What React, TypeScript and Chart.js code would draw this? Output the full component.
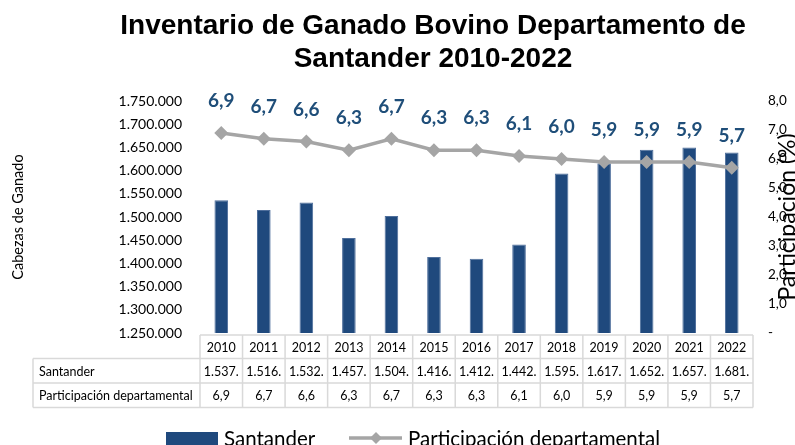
import React, { useEffect, useRef } from 'react';
import { Chart, registerables } from 'chart.js';

Chart.register(...registerables);

const titleLines = ['Inventario de Ganado Bovino Departamento de', 'Santander 2010-2022'];
const years = ['2010', '2011', '2012', '2013', '2014', '2015', '2016', '2017', '2018', '2019', '2020', '2021', '2022'];
const santander = [1536000, 1515000, 1531000, 1455000, 1502000, 1414000, 1410000, 1441000, 1594000, 1616000, 1645000, 1650000, 1639000];
const santanderTable = ['1.537.', '1.516.', '1.532.', '1.457.', '1.504.', '1.416.', '1.412.', '1.442.', '1.595.', '1.617.', '1.652.', '1.657.', '1.681.'];
const participacion = [6.9, 6.7, 6.6, 6.3, 6.7, 6.3, 6.3, 6.1, 6.0, 5.9, 5.9, 5.9, 5.7];
const seriesNames = ['Santander', 'Participación departamental'];
const leftAxisTitle = 'Cabezas de Ganado';
const rightAxisTitle = 'Participación (%)';

const BAR = '#1F497D';
const LINE = '#A5A5A5';
const LABEL = '#1F4E79';
const GRID = '#D9D9D9';
const FONT = 'Lato, "Open Sans", sans-serif';

const fmtComma = (v: number) => v.toFixed(1).replace('.', ',');
const fmtThousands = (v: number) => Math.round(v).toString().replace(/\B(?=(\d{3})+(?!\d))/g, '.');

const customPlugin = {
  id: 'custom',
  afterDatasetsDraw(chart: any) {
    const ctx = chart.ctx;
    const meta = chart.getDatasetMeta(1);
    ctx.save();
    ctx.font = `bold 19px ${FONT}`;
    ctx.fillStyle = LABEL;
    ctx.textAlign = 'center';
    ctx.textBaseline = 'middle';
    meta.data.forEach((pt: any, i: number) => {
      ctx.fillText(fmtComma(participacion[i]), pt.x, pt.y - 32);
    });
    ctx.restore();
  },
  afterDraw(chart: any) {
    const ctx = chart.ctx;
    const { left, right } = chart.chartArea;
    const n = years.length;
    const w = (right - left) / n;
    ctx.save();

    // Title
    ctx.fillStyle = '#000';
    ctx.font = 'bold 28px "Liberation Sans", Arial, sans-serif';
    ctx.textAlign = 'center';
    ctx.textBaseline = 'alphabetic';
    ctx.fillText(titleLines[0], 433, 34);
    ctx.fillText(titleLines[1], 433, 66.5);

    // Data table
    const rows = [335, 358.5, 383, 407.5];
    const tableLeft = 33;
    ctx.strokeStyle = GRID;
    ctx.lineWidth = 1.5;
    ctx.beginPath();
    ctx.moveTo(left, rows[0]);
    ctx.lineTo(right, rows[0]);
    for (let r = 1; r < rows.length; r++) {
      ctx.moveTo(tableLeft, rows[r]);
      ctx.lineTo(right, rows[r]);
    }
    for (let i = 0; i <= n; i++) {
      const x = left + i * w;
      ctx.moveTo(x, rows[0]);
      ctx.lineTo(x, rows[3]);
    }
    ctx.moveTo(tableLeft, rows[1]);
    ctx.lineTo(tableLeft, rows[3]);
    ctx.stroke();

    ctx.fillStyle = '#000';
    ctx.font = `12.5px ${FONT}`;
    ctx.textBaseline = 'middle';
    ctx.textAlign = 'center';
    const xs = chart.scales.x;
    years.forEach((y, i) => {
      const cx = xs.getPixelForValue(i);
      ctx.fillText(y, cx, (rows[0] + rows[1]) / 2 + 1);
      ctx.fillText(santanderTable[i], cx, (rows[1] + rows[2]) / 2 + 1);
      ctx.fillText(fmtComma(participacion[i]), cx, (rows[2] + rows[3]) / 2 + 1);
    });
    ctx.textAlign = 'left';
    ctx.fillText(seriesNames[0], 39, (rows[1] + rows[2]) / 2 + 1);
    ctx.fillText(seriesNames[1], 39, (rows[2] + rows[3]) / 2 + 1);

    // Right axis title (reads bottom to top)
    ctx.save();
    ctx.translate(788, (chart.chartArea.top + chart.chartArea.bottom) / 2);
    ctx.rotate(-Math.PI / 2);
    ctx.font = `23px ${FONT}`;
    ctx.textAlign = 'center';
    ctx.textBaseline = 'middle';
    ctx.fillStyle = '#000';
    ctx.fillText(rightAxisTitle, 0, 0);
    ctx.restore();

    // Legend
    const ly = 438;
    ctx.fillStyle = BAR;
    ctx.fillRect(166, 432, 52, 13);
    ctx.font = `20.5px ${FONT}`;
    ctx.fillStyle = '#000';
    ctx.textAlign = 'left';
    ctx.textBaseline = 'middle';
    ctx.fillText(seriesNames[0], 224, ly + 1);
    ctx.strokeStyle = LINE;
    ctx.lineWidth = 3.5;
    ctx.beginPath();
    ctx.moveTo(349, ly);
    ctx.lineTo(402, ly);
    ctx.stroke();
    ctx.fillStyle = LINE;
    ctx.beginPath();
    ctx.moveTo(376, ly - 6);
    ctx.lineTo(382, ly);
    ctx.lineTo(376, ly + 6);
    ctx.lineTo(370, ly);
    ctx.closePath();
    ctx.fill();
    ctx.fillStyle = '#000';
    ctx.fillText(seriesNames[1], 408, ly + 1);

    ctx.restore();
  },
};

export default function App() {
  const ref = useRef<HTMLCanvasElement>(null);
  useEffect(() => {
    if (!ref.current) return;
    const chart = new Chart(ref.current, {
      type: 'bar',
      data: {
        labels: years,
        datasets: [
          {
            type: 'bar',
            label: seriesNames[0],
            data: santander,
            backgroundColor: BAR,
            borderColor: '#4F6F9C',
            borderWidth: 1,
            categoryPercentage: 1,
            barPercentage: 0.32,
            yAxisID: 'y',
            order: 2,
          } as any,
          {
            type: 'line',
            label: seriesNames[1],
            data: participacion,
            borderColor: LINE,
            backgroundColor: LINE,
            borderWidth: 3.5,
            pointStyle: 'rectRot',
            pointRadius: 7,
            pointBackgroundColor: LINE,
            pointBorderColor: LINE,
            pointBorderWidth: 0,
            tension: 0,
            yAxisID: 'y1',
            order: 1,
          } as any,
        ],
      },
      options: {
        responsive: false,
        animation: false,
        layout: { padding: { top: 101, bottom: 112, left: 0, right: 0 } },
        plugins: {
          legend: { display: false },
          title: { display: false },
          tooltip: { enabled: false },
        },
        scales: {
          x: {
            display: false,
            offset: true,
            grid: { display: false },
          },
          y: {
            position: 'left',
            min: 1250000,
            max: 1750000,
            grid: { display: false, drawTicks: false },
            border: { display: false },
            ticks: {
              stepSize: 50000,
              padding: 18,
              color: '#000',
              font: { family: FONT, size: 14 },
              callback: (v: any) => fmtThousands(Number(v)),
            },
            title: {
              display: true,
              text: leftAxisTitle,
              color: '#000',
              font: { family: FONT, size: 14.5 },
              padding: { top: 10, bottom: 0 },
            },
            afterFit: (s: any) => { s.width = 200; },
          },
          y1: {
            position: 'right',
            min: 0,
            max: 8,
            grid: { display: false, drawTicks: false },
            border: { display: false },
            ticks: {
              stepSize: 1,
              padding: 15,
              color: '#000',
              font: { family: FONT, size: 13.5 },
              callback: (v: any) => (Number(v) === 0 ? '-' : fmtComma(Number(v))),
            },
            afterFit: (s: any) => { s.width = 42; },
          },
        },
      } as any,
      plugins: [customPlugin],
    });
    return () => chart.destroy();
  }, []);
  return (
    <div style={{ position: 'absolute', left: 0, top: 0, width: 795, height: 445 }}>
      <canvas ref={ref} width={795} height={445} style={{ display: 'block' }} />
    </div>
  );
}
